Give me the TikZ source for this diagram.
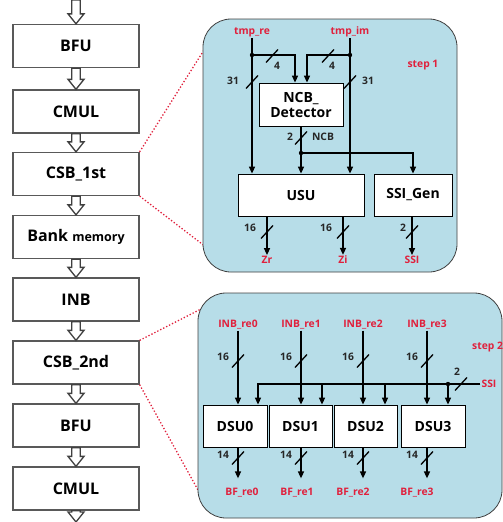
\documentclass[tikz,border=0pt]{standalone}
\usepackage{fontspec}
\setmainfont{Open Sans}
\usetikzlibrary{arrows.meta,calc}
\definecolor{pfill}{HTML}{B7DDE8}
\definecolor{lred}{HTML}{E0203C}
\newcommand{\harr}[2]{\draw[harrow] let \p1=(#1), \p2=(#2) in (\x1-4.3pt,\y1) -- (\x1+4.3pt,\y1) -- (\x1+4.3pt,\y2+10pt) -- (\x1+8pt,\y2+10pt) -- (\x1,\y2) -- (\x1-8pt,\y2+10pt) -- (\x1-4.3pt,\y2+10pt) -- cycle;}
\newcommand{\tick}[1]{\draw[line width=1.3pt] ($(#1)+(-6,6.5)$) -- ($(#1)+(6,-6.5)$);}
\begin{document}
\begin{tikzpicture}[x=1pt,y=-1pt,
  lbox/.style={draw=black!65, line width=1.3pt, fill=white, minimum width=126pt, minimum height=43pt, font=\fontsize{16}{18}\selectfont\bfseries, inner sep=0pt},
  panel/.style={draw=black!75, line width=0.8pt, fill=pfill, rounded corners=28pt},
  ibox/.style={draw=black, line width=0.8pt, fill=white, font=\fontsize{14}{16}\selectfont\bfseries, inner sep=0pt},
  sig/.style={line width=1.5pt, -{Triangle[length=7pt,width=6pt]}},
  rl/.style={text=lred, font=\fontsize{10.3}{12}\selectfont\bfseries, inner sep=1pt},
  nl/.style={text=black!85, font=\fontsize{10.3}{12}\selectfont\bfseries, inner sep=0pt},
  zoomline/.style={draw=lred, line width=1.3pt, dotted},
  harrow/.style={draw=black!75, line width=1.3pt, fill=white}]
\useasboundingbox (0,0) rectangle (503,522);

% left column
\node[lbox] (b1) at (76,46) {BFU};
\node[lbox] (b2) at (76,111.5) {CMUL};
\node[lbox] (b3) at (76,174) {CSB\_1st};
\node[lbox] (b4) at (76,237) {Bank {\fontsize{12.5}{14}\selectfont memory}};
\node[lbox] (b5) at (76,299.5) {INB};
\node[lbox] (b6) at (76,362.5) {CSB\_2nd};
\node[lbox] (b7) at (76,425.5) {BFU};
\node[lbox] (b8) at (76,488.5) {CMUL};
\coordinate (top) at (76,0);
\coordinate (bot) at (76,522);
\harr{top}{b1.north}
\harr{b1.south}{b2.north}
\harr{b2.south}{b3.north}
\harr{b3.south}{b4.north}
\harr{b4.south}{b5.north}
\harr{b5.south}{b6.north}
\harr{b6.south}{b7.north}
\harr{b7.south}{b8.north}
\harr{b8.south}{bot}

% zoom lines
\coordinate (z1) at (204,50);
\coordinate (z2) at (206,247);
\coordinate (z3) at (203,308);
\coordinate (z4) at (198,490);
\draw[zoomline] (b3.north east) -- (z1);
\draw[zoomline] (b3.south east) -- (z2);
\draw[zoomline] (b6.north east) -- (z3);
\draw[zoomline] (b6.south east) -- (z4);

% upper panel
\draw[panel] (203,19) rectangle (457,272);
\node[rl] (tre) at (252,32) {tmp\_re};
\node[rl] (tim) at (350,32) {tmp\_im};
\node[rl] (st1) at (423,65) {step 1};
\node[ibox, minimum width=84pt, minimum height=43pt, align=center] (ncb) at (301,104.5) {NCB\_\\[-1pt]Detector};
\node[ibox, minimum width=126pt, minimum height=42pt] (usu) at (301,195) {USU};
\node[ibox, minimum width=78pt, minimum height=42pt] (ssig) at (413,195) {SSI\_Gen};
\coordinate (d1) at (252,55);
\coordinate (d2) at (350,55);
\draw[sig] (tre.south) -- (tre.south |- usu.north);
\draw[sig] (tim.south) -- (tim.south |- usu.north);
\draw[sig] (d1) -| ([xshift=-6pt]ncb.north);
\draw[sig] (d2) -| ([xshift=6pt]ncb.north);
\fill (d1) circle (2.2pt);
\fill (d2) circle (2.2pt);
\coordinate (t1) at (272,56); \tick{t1}
\coordinate (t2) at (328,56); \tick{t2}
\node[nl] (n4a) at (277,66) {4};
\node[nl] (n4b) at (332,66) {4};
\coordinate (t3) at (252,82); \tick{t3}
\coordinate (t4) at (350,82); \tick{t4}
\node[nl] (n31a) at (233,81) {31};
\node[nl] (n31b) at (368,81) {31};
\coordinate (d3) at (301,153);
\draw[sig] (ncb.south) -- (usu.north);
\draw[sig] (d3) -| (ssig.north);
\fill (d3) circle (2.2pt);
\coordinate (t5) at (301,138); \tick{t5}
\node[nl] (n2a) at (290,137) {2};
\node[nl] (nncb) at (323,137) {NCB};
\node[rl] (zr) at (267,260) {Zr};
\node[rl] (zi) at (343,260) {Zi};
\node[rl] (ssio) at (412,260) {SSI};
\draw[sig] (usu.south -| zr.north) -- (zr.north);
\draw[sig] (usu.south -| zi.north) -- (zi.north);
\draw[sig] (ssig.south -| ssio.north) -- (ssio.north);
\coordinate (t6) at (267,232); \tick{t6}
\coordinate (t7) at (343,232); \tick{t7}
\coordinate (t8) at (412,232); \tick{t8}
\node[nl] (n16a) at (250,228) {16};
\node[nl] (n16b) at (326,228) {16};
\node[nl] (n2b) at (403,228) {2};

% lower panel
\draw[panel] (198,293) rectangle (502,518);
\node[rl] (i0) at (238,325) {INB\_re0};
\node[rl] (i1) at (301,325) {INB\_re1};
\node[rl] (i2) at (363,325) {INB\_re2};
\node[rl] (i3) at (427,325) {INB\_re3};
\node[rl, anchor=west] (st2) at (471,347) {step 2};
\node[ibox, minimum width=64pt, minimum height=42pt] (u0) at (235,426) {DSU0};
\node[ibox, minimum width=63pt, minimum height=42pt] (u1) at (300.5,426) {DSU1};
\node[ibox, minimum width=63pt, minimum height=42pt] (u2) at (365.5,426) {DSU2};
\node[ibox, minimum width=64pt, minimum height=42pt] (u3) at (433,426) {DSU3};
\draw[sig] (i0.south) -- (i0.south |- u0.north);
\draw[sig] (i1.south) -- (i1.south |- u1.north);
\draw[sig] (i2.south) -- (i2.south |- u2.north);
\draw[sig] (i3.south) -- (i3.south |- u3.north);
\foreach \xx/\nn in {238/a,301/b,363/c,427/d}{
  \coordinate (ti\nn) at (\xx,361); \tick{ti\nn}
  \node[nl] (ni\nn) at (\xx-15,357) {16};
  \coordinate (to\nn) at (\xx,458); \tick{to\nn}
  \node[nl] (no\nn) at (\xx-15,455) {14};
}
\node[rl] (ssil) at (489,384) {SSI};
\draw[sig] (ssil.west) -| ([xshift=23pt]u0.north);
\coordinate (j1) at (322,384);
\coordinate (j2) at (385,384);
\coordinate (j3) at (448,384);
\draw[sig] (j1) -- (j1 |- u1.north);
\draw[sig] (j2) -- (j2 |- u2.north);
\draw[sig] (j3) -- (j3 |- u3.north);
\fill (j3) circle (2.2pt);
\coordinate (t9) at (461,384); \tick{t9}
\node[nl] (n2c) at (457,372) {2};
\node[rl] (o0) at (242,493) {BF\_re0};
\node[rl] (o1) at (297,493) {BF\_re1};
\node[rl] (o2) at (353,493) {BF\_re2};
\node[rl] (o3) at (417,493) {BF\_re3};
\draw[sig] (u0.south -| i0.south) -- ++(0,31);
\draw[sig] (u1.south -| i1.south) -- ++(0,31);
\draw[sig] (u2.south -| i2.south) -- ++(0,31);
\draw[sig] (u3.south -| i3.south) -- ++(0,31);
\end{tikzpicture}
\end{document}
